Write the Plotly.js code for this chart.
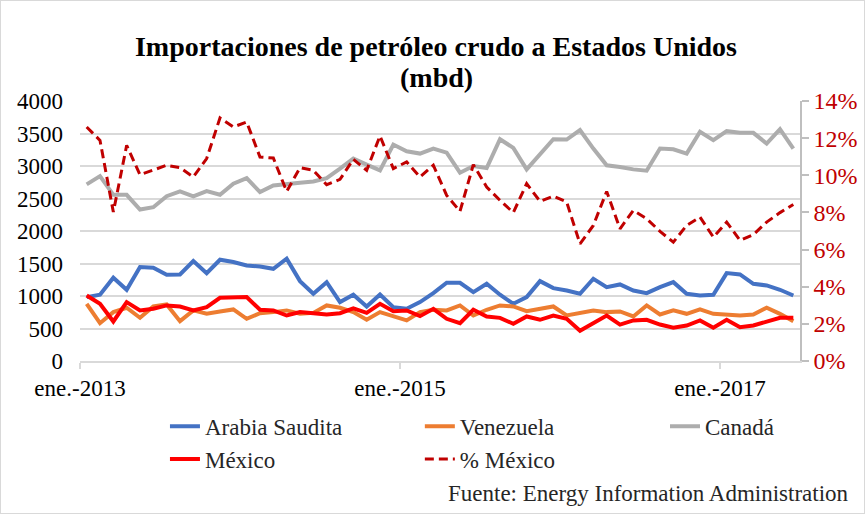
<!DOCTYPE html>
<html><head><meta charset="utf-8">
<script src="https://cdn.plot.ly/plotly-3.0.1.min.js"></script>
<style>html,body{margin:0;padding:0;background:#fff}#chart{width:863px;height:512px;border:1px solid #d9d9d9}</style>
</head><body><div id="chart"></div>
<script>
// Monthly categories: ene.-2013 .. jun.-2017 (54 months)
const monthNames = ["ene.","feb.","mar.","abr.","may.","jun.","jul.","ago.","sep.","oct.","nov.","dic."];
const years = [2013, 2014, 2015, 2016, 2017];
const months = [];
years.forEach(y => monthNames.forEach(m => { if (months.length < 54) months.push(m + "-" + y); }));

const tickLabels = ["ene.-2013", "ene.-2015", "ene.-2017"];
const pctTicks = [0, 2, 4, 6, 8, 10, 12, 14];

const arabiaSaudita = [983,1019,1281,1096,1445,1434,1327,1332,1537,1352,1558,1522,1470,1455,1419,1573,1229,1034,
  1213,906,1019,839,1024,829,803,906,1044,1204,1204,1060,1188,1019,880,983,1229,1121,
  1085,1034,1265,1137,1178,1085,1044,1137,1213,1034,1008,1019,1352,1332,1188,1162,1096,1008];
const venezuela = [880,582,752,819,665,839,870,613,778,726,762,793,649,736,752,778,726,740,
  855,819,752,634,752,685,624,752,788,778,855,700,788,855,839,767,803,839,
  700,736,778,752,762,685,855,716,778,726,793,726,716,700,716,819,726,613];
const canada = [2717,2845,2557,2557,2330,2366,2536,2608,2531,2613,2557,2727,2814,2598,2701,2727,2742,2763,
  2814,2959,3113,3021,2933,3330,3227,3191,3268,3206,2897,3000,2969,3412,3278,2948,3175,3412,
  3407,3552,3268,3010,2985,2948,2928,3268,3258,3191,3526,3397,3536,3510,3510,3345,3567,3268];
const mexico = [1008,880,608,906,778,803,855,839,778,829,973,983,983,788,778,700,752,736,
  716,736,811,741,880,767,778,690,803,649,582,788,685,664,572,685,634,700,
  649,465,582,700,561,624,634,561,511,546,624,511,634,521,546,598,664,664];
const pctMexico = [12.6,11.88,8.02,11.61,10.03,10.27,10.54,10.41,9.91,10.9,13.09,12.6,12.87,10.98,10.93,9.13,10.41,10.27,
  9.49,9.78,10.86,10.27,12.12,10.36,10.72,9.91,10.54,8.92,8.06,10.57,9.37,8.65,7.99,9.55,8.6,8.88,
  8.56,6.31,7.3,9.13,7.12,8.11,7.66,6.98,6.4,7.3,7.75,6.67,7.48,6.49,6.8,7.48,7.99,8.43];

const xIdx = months.map((_, i) => i);
const tickPos = tickLabels.map(t => months.indexOf(t) - 0.5);
const FONT = "Liberation Serif, Times New Roman, serif";

function line(name, y, color, width, legend, extra) {
  return Object.assign({
    type: "scatter", mode: "lines", name: name, x: xIdx, y: y,
    text: months, hovertemplate: "%{text}: %{y}<extra>" + name + "</extra>",
    line: {color: color, width: width}, legend: legend
  }, extra || {});
}

const data = [
  line("Arabia Saudita", arabiaSaudita, "#4472C4", 4, "legend"),
  line("Venezuela", venezuela, "#ED7D31", 4, "legend2"),
  line("Canadá", canada, "#ADADAD", 4, "legend3"),
  line("México", mexico, "#FF0000", 4, "legend"),
  Object.assign(line("% México", pctMexico, "#C00000", 3, "legend2"),
    {yaxis: "y2", line: {color: "#C00000", width: 3, dash: "9px,5px"},
     hovertemplate: "%{text}: %{y}%<extra>% México</extra>"})
];

const legendBase = {orientation: "v", xanchor: "left", yanchor: "top", y: -0.168,
  font: {family: FONT, size: 23, color: "#262626"}, bgcolor: "rgba(0,0,0,0)",
  borderwidth: 0, tracegroupgap: 0, traceorder: "normal"};

const layout = {
  width: 863, height: 512,
  margin: {l: 79, r: 64, t: 100, b: 152, pad: 0},
  paper_bgcolor: "#fff", plot_bgcolor: "#fff",
  font: {family: FONT, size: 23, color: "#262626"},
  title: {text: "Importaciones de petróleo crudo a Estados Unidos",
    font: {family: FONT, size: 28, color: "#000", weight: 700},
    x: 0.504, xref: "container", xanchor: "center",
    y: 1 - 45 / 512, yref: "container", yanchor: "middle"},
  xaxis: {range: [-0.5, 53.5], tickvals: tickPos, ticktext: tickLabels,
    showgrid: false, zeroline: false, showline: true, linecolor: "#D9D9D9", linewidth: 1.5,
    ticks: "outside", ticklen: 6, tickcolor: "#D9D9D9", tickwidth: 1.5,
    tickfont: {family: FONT, size: 23, color: "#000"}, fixedrange: true},
  yaxis: {range: [0, 4000], dtick: 500, showgrid: true, gridcolor: "#D9D9D9", gridwidth: 1.5,
    zeroline: false, showline: false, ticks: "", ticklabelstandoff: 16,
    tickfont: {family: FONT, size: 23, color: "#000"}, fixedrange: true},
  yaxis2: {range: [0, 14], tickvals: pctTicks, ticktext: pctTicks.map(v => v + "%"),
    overlaying: "y", side: "right", showgrid: false, zeroline: false,
    showline: true, linecolor: "#BFBFBF", linewidth: 1.5, ticks: "outside", ticklen: 7,
    tickcolor: "#BFBFBF", tickwidth: 1.5,
    tickfont: {family: FONT, size: 24, color: "#C00000"}, fixedrange: true},
  legend: Object.assign({}, legendBase, {x: 0.118}),
  legend2: Object.assign({}, legendBase, {x: 0.472}),
  legend3: Object.assign({}, legendBase, {x: 0.8125}),
  annotations: [
    {text: "(mbd)", xref: "paper", yref: "paper", x: (436 - 80) / 720, y: (360 - 76) / 260,
     xanchor: "center", yanchor: "middle", showarrow: false,
     font: {family: FONT, size: 28, color: "#000", weight: 700}},
    {text: "Fuente: Energy Information Administration",
    xref: "paper", yref: "paper", x: 1.071, y: -0.51, xanchor: "right", yanchor: "middle",
    showarrow: false, font: {family: FONT, size: 23, color: "#262626"}}]
};

Plotly.newPlot("chart", data, layout, {displayModeBar: false});
</script></body></html>
